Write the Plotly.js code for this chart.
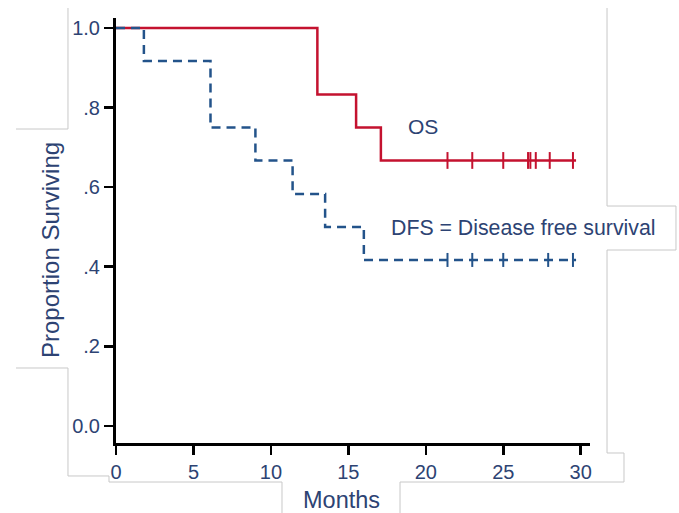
<!DOCTYPE html>
<html>
<head>
<meta charset="utf-8">
<script src="https://cdn.plot.ly/plotly-3.0.1.min.js"></script>
<style>
  html, body { margin: 0; padding: 0; background: #ffffff; }
  #chart { width: 679px; height: 513px; }
</style>
</head>
<body>
<div id="chart"></div>
<script>
// Kaplan-Meier estimates (months, proportion surviving)
const osStepTimes = [0, 13.0, 15.5, 17.1, 29.7];
const osStepSurv = [1.0, 0.833, 0.75, 0.667, 0.667];
const osCensorTimes = [21.4, 23.0, 25.0, 26.6, 26.75, 27.1, 28.0, 29.5];
const osCensorSurv = [0.667, 0.667, 0.667, 0.667, 0.667, 0.667, 0.667, 0.667];

const dfsStepTimes = [0, 1.8, 6.1, 9.0, 11.4, 13.5, 16.0, 29.7];
const dfsStepSurv = [1.0, 0.917, 0.75, 0.667, 0.583, 0.5, 0.417, 0.417];
const dfsCensorTimes = [21.4, 23.0, 25.0, 27.9, 29.5];
const dfsCensorSurv = [0.417, 0.417, 0.417, 0.417, 0.417];

const xTickVals = [0, 5, 10, 15, 20, 25, 30];
const xTickText = ['0', '5', '10', '15', '20', '25', '30'];
const yTickVals = [0, 0.2, 0.4, 0.6, 0.8, 1.0];
const yTickText = ['0.0', '.2', '.4', '.6', '.8', '1.0'];

const W = 679, H = 513;
const M = { l: 116, r: 89, t: 18, b: 70 };
const plotW = W - M.l - M.r, plotH = H - M.t - M.b;
// pixel -> paper helpers for page decorations
const px = x => (x - M.l) / plotW;
const py = y => (H - M.b - y) / plotH;
const path = pts => pts.map((p, i) => (i ? 'L' : 'M') + px(p[0]).toFixed(4) + ',' + py(p[1]).toFixed(4)).join(' ');

const navy = '#2D4373';
const red = '#C4122F';
const blue = '#23538A';
const font = 'Arial, "Liberation Sans", sans-serif';

const traces = [
  {
    x: osStepTimes, y: osStepSurv, type: 'scatter', mode: 'lines',
    line: { shape: 'hv', color: red, width: 2.5 }, name: 'OS', hoverinfo: 'skip'
  },
  {
    x: osCensorTimes, y: osCensorSurv, type: 'scatter', mode: 'markers',
    marker: { symbol: 'line-ns', size: 12, line: { color: red, width: 2 } }, name: 'OS censored'
  },
  {
    x: dfsStepTimes, y: dfsStepSurv, type: 'scatter', mode: 'lines',
    line: { shape: 'hv', color: blue, width: 2.5, dash: '9px,6px' }, name: 'DFS', hoverinfo: 'skip'
  },
  {
    x: dfsCensorTimes, y: dfsCensorSurv, type: 'scatter', mode: 'markers',
    marker: { symbol: 'line-ns', size: 10, line: { color: blue, width: 2 } }, name: 'DFS censored'
  }
];

const grey = { color: '#C8C8C8', width: 1 };
const layout = {
  width: W, height: H,
  margin: M,
  paper_bgcolor: '#ffffff', plot_bgcolor: '#ffffff',
  showlegend: false,
  font: { family: font, color: navy },
  xaxis: {
    range: [0, 30.6], showgrid: false, zeroline: false,
    showline: true, linecolor: '#000000', linewidth: 3,
    ticks: 'outside', ticklen: 9, tickwidth: 2.5, tickcolor: '#000000',
    tickvals: xTickVals, ticktext: xTickText,
    tickfont: { size: 20, color: navy, family: font }
  },
  yaxis: {
    range: [-0.043, 1.025], showgrid: false, zeroline: false,
    showline: true, linecolor: '#000000', linewidth: 3,
    ticks: 'outside', ticklen: 9, tickwidth: 2.5, tickcolor: '#000000',
    tickvals: yTickVals, ticktext: yTickText,
    tickfont: { size: 20, color: navy, family: font }
  },
  annotations: [
    { xref: 'paper', yref: 'paper', x: px(341), y: py(500), text: 'Months', showarrow: false,
      font: { size: 23.5, color: navy, family: font }, xanchor: 'center', yanchor: 'middle' },
    { xref: 'paper', yref: 'paper', x: px(50), y: py(250), text: 'Proportion Surviving', showarrow: false,
      textangle: -90, font: { size: 24, color: navy, family: font }, xanchor: 'center', yanchor: 'middle' },
    { xref: 'x', yref: 'y', x: 19.8, y: 0.753, text: 'OS', showarrow: false,
      font: { size: 21, color: navy, family: font }, xanchor: 'center', yanchor: 'middle' },
    { xref: 'x', yref: 'y', x: 17.6, y: 0.497, text: 'DFS = Disease free survival', showarrow: false,
      font: { size: 21.3, color: navy, family: font }, xanchor: 'left', yanchor: 'middle' }
  ],
  shapes: [
    { type: 'path', xref: 'paper', yref: 'paper', layer: 'below', line: grey,
      path: path([[16, 129], [68, 129], [68, 8]]) },
    { type: 'path', xref: 'paper', yref: 'paper', layer: 'below', line: grey,
      path: path([[16, 368], [68, 368], [68, 476], [109, 476], [109, 482], [282, 482], [282, 513]]) },
    { type: 'path', xref: 'paper', yref: 'paper', layer: 'below', line: grey,
      path: path([[607, 8], [607, 206], [676, 206], [676, 250], [607, 250], [607, 453], [624, 453], [624, 482], [400, 482], [400, 513]]) }
  ]
};

Plotly.newPlot('chart', traces, layout, { displayModeBar: false, staticPlot: true });
</script>
</body>
</html>
